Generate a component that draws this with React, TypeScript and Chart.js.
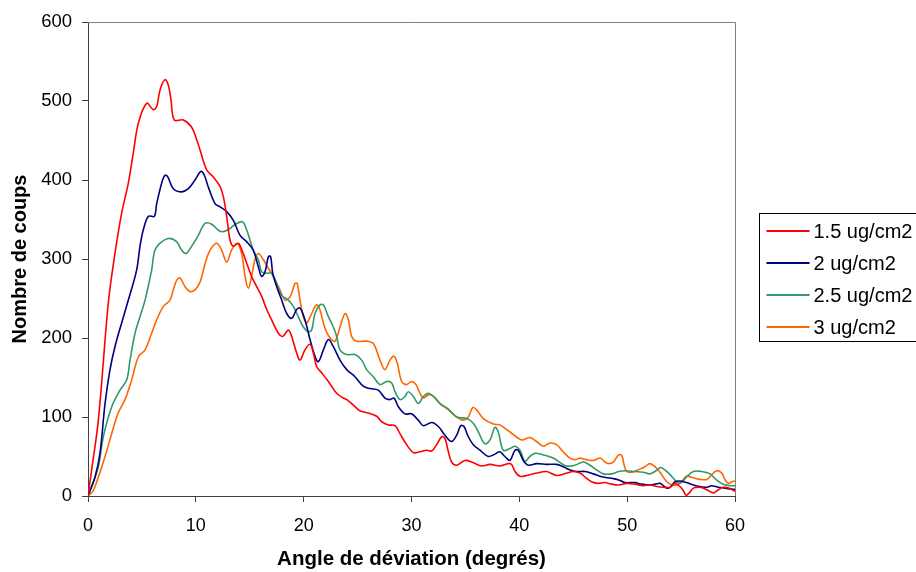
import React, { useEffect, useRef } from "react";
import { Chart, registerables } from "chart.js";

Chart.register(...registerables);

// ---------- data ----------
const seriesLabels = ["1.5 ug/cm2", "2 ug/cm2", "2.5 ug/cm2", "3 ug/cm2"];
const seriesColors = ["#FF0000", "#000080", "#339966", "#FF6600"];

const angle15 = [0, 0.34, 0.96, 1.88, 2.41, 3.12, 3.74, 4.2, 4.67, 5.44, 6.06, 6.37, 6.68, 7.14, 7.45, 7.7, 8.0, 8.84, 9.6, 10.08, 10.39, 11.0, 11.6, 12.24, 12.55, 12.86, 13.17, 13.48, 13.94, 14.25, 14.71, 15.17, 15.64, 16.1, 16.57, 17.03, 17.65, 18.05, 18.58, 18.89, 19.35, 19.66, 20.12, 20.59, 20.9, 21.2, 21.67, 22.29, 23.06, 23.68, 24.0, 24.6, 25.2, 26.0, 26.77, 27.23, 27.85, 28.47, 28.93, 29.55, 30.17, 30.79, 31.4, 31.87, 32.33, 32.8, 33.1, 33.42, 33.72, 34.19, 34.96, 35.73, 36.5, 37.28, 38.2, 38.97, 39.28, 39.6, 40.06, 40.68, 41.6, 42.53, 43.45, 44.38, 45.0, 45.63, 46.1, 46.7, 47.3, 47.95, 48.57, 49.2, 49.95, 50.73, 51.5, 52.1, 52.74, 53.36, 53.98, 54.44, 54.9, 55.2, 55.46, 55.77, 56.14, 56.76, 57.38, 58.0, 58.47, 58.9, 59.4, 60];
const counts15 = [0, 33, 96, 244, 299, 358, 396, 434, 472, 497, 489, 493, 514, 527, 520, 501, 476, 476, 467, 451, 438, 413, 404, 392, 379, 354, 324, 316, 320, 312, 295, 278, 265, 253, 236, 223, 206, 202, 210, 202, 181, 172, 185, 192, 181, 164, 156, 145, 130, 124, 122, 115, 108, 105, 101, 94, 90, 89, 79, 65, 55, 56, 58, 57, 65, 75, 73, 56, 43, 39, 45, 42, 38, 40, 38, 41, 40, 31, 25, 26, 29, 31, 26, 29, 31, 29, 24, 18, 16, 17, 15, 14, 16, 15, 13, 14, 12, 11, 11, 16, 12, 7, 1, 4, 10, 11, 8, 4, 8, 11, 10, 6];

const angle2 = [0, 0.65, 1.11, 1.58, 2.04, 2.5, 3.12, 3.74, 4.51, 4.82, 5.13, 5.6, 6.15, 6.37, 6.83, 7.14, 7.4, 7.91, 8.69, 9.3, 9.92, 10.48, 10.79, 11.16, 11.78, 12.24, 12.86, 13.48, 14.1, 14.71, 15.33, 15.8, 16.1, 16.42, 16.73, 16.94, 17.13, 17.5, 17.96, 18.43, 18.89, 19.35, 19.66, 20.12, 20.59, 21.05, 21.36, 21.83, 22.29, 22.75, 23.37, 23.99, 24.76, 25.53, 26.15, 26.92, 27.54, 28.0, 28.38, 28.78, 29.4, 30.0, 30.63, 31.1, 31.87, 32.49, 33.1, 33.72, 34.19, 34.56, 34.87, 35.27, 35.73, 36.35, 37.12, 37.74, 38.2, 38.66, 39.13, 39.6, 39.9, 40.37, 40.83, 41.6, 42.53, 43.45, 44.07, 44.7, 45.3, 46.1, 46.86, 47.79, 48.72, 49.3, 49.8, 50.73, 51.3, 51.95, 52.6, 53.05, 53.36, 53.67, 53.98, 54.44, 54.9, 55.5, 56.14, 56.76, 57.38, 57.84, 58.47, 59.08, 60];
const counts2 = [0, 24, 54, 117, 160, 189, 219, 248, 286, 316, 337, 354, 354, 370, 396, 406, 404, 389, 385, 389, 400, 411, 406, 391, 370, 366, 360, 349, 330, 322, 311, 290, 278, 284, 303, 303, 282, 265, 248, 231, 225, 236, 238, 223, 198, 177, 170, 185, 198, 189, 172, 160, 151, 139, 136, 134, 124, 122, 124, 113, 104, 104, 96, 89, 93, 88, 77, 69, 77, 89, 88, 75, 65, 58, 50, 53, 56, 50, 45, 58, 58, 45, 39, 41, 40, 40, 37, 33, 31, 31, 28, 24, 22, 20, 17, 17, 15, 14, 15, 16, 13, 10, 11, 18, 19, 17, 14, 12, 11, 13, 11, 10, 8];

const angle25 = [0, 0.34, 0.96, 1.42, 2.2, 2.97, 3.59, 3.9, 4.36, 4.82, 5.29, 5.9, 6.2, 6.68, 7.45, 8.22, 8.69, 9.09, 9.6, 10.23, 10.85, 11.47, 12.24, 12.86, 13.79, 14.35, 14.71, 15.02, 15.33, 15.8, 16.1, 16.57, 17.03, 17.5, 17.96, 18.58, 19.04, 19.5, 19.97, 20.43, 20.74, 21.05, 21.5, 21.83, 22.29, 22.75, 23.06, 23.37, 23.99, 24.76, 25.38, 25.84, 26.46, 27.08, 27.7, 28.16, 28.47, 28.93, 29.4, 29.7, 30.17, 30.63, 31.1, 31.56, 32.03, 32.65, 33.42, 34.19, 35.12, 35.73, 36.2, 36.8, 37.28, 37.74, 38.05, 38.5, 39.13, 39.6, 40.06, 40.52, 40.98, 41.45, 42.22, 43.15, 43.92, 44.38, 45.16, 45.93, 46.55, 47.17, 47.79, 48.57, 49.2, 49.8, 50.73, 51.5, 52.1, 52.68, 53.1, 53.5, 53.98, 54.6, 55.05, 55.5, 56.14, 56.9, 57.69, 58.3, 58.9, 59.55, 60];
const counts25 = [0, 12, 37, 75, 113, 134, 147, 172, 206, 227, 248, 286, 311, 320, 326, 322, 311, 307, 316, 330, 345, 344, 335, 336, 345, 347, 337, 324, 311, 299, 284, 282, 282, 269, 254, 248, 240, 227, 214, 208, 210, 231, 242, 242, 227, 214, 202, 185, 179, 179, 172, 160, 151, 141, 145, 143, 132, 122, 126, 132, 126, 117, 126, 130, 126, 117, 110, 100, 98, 92, 81, 66, 71, 87, 81, 58, 60, 63, 58, 44, 50, 54, 52, 48, 41, 38, 39, 43, 39, 33, 28, 28, 31, 32, 31, 30, 28, 32, 36, 33, 27, 18, 17, 24, 31, 31, 28, 20, 15, 13, 13];

const angle3 = [0, 0.45, 0.96, 1.58, 2.2, 2.8, 3.43, 4.05, 4.67, 5.29, 5.9, 6.37, 6.99, 7.6, 7.91, 8.22, 8.53, 9.0, 9.46, 9.92, 10.4, 10.85, 11.31, 11.93, 12.4, 12.86, 13.3, 13.79, 14.25, 14.56, 14.87, 15.17, 15.48, 15.8, 16.26, 16.73, 17.19, 17.8, 18.27, 18.74, 19.2, 19.4, 19.66, 19.97, 20.28, 20.74, 21.2, 21.5, 21.98, 22.45, 22.91, 23.37, 23.84, 24.15, 24.45, 24.91, 25.84, 26.46, 27.08, 27.54, 28.0, 28.38, 28.68, 29.09, 29.55, 30.0, 30.42, 30.79, 31.1, 31.56, 32.03, 32.65, 33.42, 34.19, 34.8, 35.27, 35.67, 36.04, 36.66, 37.59, 38.2, 39.13, 40.21, 40.98, 41.6, 42.22, 42.84, 43.45, 44.07, 44.69, 45.17, 45.63, 46.24, 46.86, 47.5, 47.95, 48.26, 48.72, 49.2, 49.5, 49.72, 49.95, 50.4, 51.0, 51.65, 52.1, 52.6, 53.05, 53.67, 54.13, 54.6, 55.05, 55.5, 56.14, 56.76, 57.38, 57.84, 58.3, 58.78, 59.1, 59.4, 59.7, 60];
const counts3 = [0, 6, 24, 50, 79, 105, 122, 147, 176, 185, 206, 223, 240, 248, 261, 273, 276, 265, 259, 261, 271, 294, 311, 320, 311, 296, 311, 320, 307, 278, 263, 278, 299, 307, 299, 288, 278, 261, 248, 252, 269, 269, 248, 227, 219, 231, 242, 236, 212, 200, 196, 214, 231, 223, 202, 196, 196, 193, 172, 160, 172, 177, 168, 145, 141, 145, 141, 130, 124, 128, 126, 117, 109, 100, 96, 100, 112, 109, 98, 91, 90, 81, 71, 74, 69, 63, 67, 65, 56, 48, 46, 48, 46, 45, 48, 43, 41, 43, 52, 51, 39, 31, 30, 33, 37, 41, 37, 30, 18, 14, 14, 18, 25, 23, 21, 21, 27, 32, 29, 20, 16, 18, 19];

const xTitle = "Angle de déviation (degrés)";
const yTitle = "Nombre de coups";
const xMin = 0, xMax = 60, xStep = 10;
const yMin = 0, yMax = 600, yStep = 100;

const seriesAngles = [angle15, angle2, angle25, angle3];
const seriesCounts = [counts15, counts2, counts25, counts3];

const FONT = "Arial, 'Liberation Sans', sans-serif";

const framePlugin = {
  id: "frameLines",
  afterDraw(chart: any) {
    const { ctx, chartArea } = chart;
    ctx.save();
    ctx.strokeStyle = "#808080";
    ctx.lineWidth = 1;
    ctx.beginPath();
    ctx.moveTo(chartArea.left, chartArea.top + 0.5);
    ctx.lineTo(chartArea.right + 0.5, chartArea.top + 0.5);
    ctx.lineTo(chartArea.right + 0.5, chartArea.bottom);
    ctx.stroke();
    ctx.restore();
  },
};

const boxLegendPlugin = {
  id: "boxLegend",
  afterDraw(chart: any) {
    const { ctx, chartArea } = chart;
    const left = chartArea.right + 24.5;
    const top = 213.5;
    const width = 157;
    const rowH = 32;
    const height = 128;
    ctx.save();
    ctx.fillStyle = "#ffffff";
    ctx.fillRect(left, top, width, height);
    ctx.strokeStyle = "#000000";
    ctx.lineWidth = 1;
    ctx.strokeRect(left, top, width, height);
    ctx.font = `20px ${FONT}`;
    ctx.textBaseline = "middle";
    ctx.textAlign = "left";
    chart.data.datasets.forEach((ds: any, i: number) => {
      const y = top + 17.5 + i * rowH;
      ctx.strokeStyle = ds.borderColor;
      ctx.lineWidth = 2;
      ctx.beginPath();
      ctx.moveTo(left + 7, y);
      ctx.lineTo(left + 50, y);
      ctx.stroke();
      ctx.fillStyle = "#000000";
      ctx.fillText(ds.label, left + 54, y + 1);
    });
    ctx.restore();
  },
};

export default function App() {
  const canvasRef = useRef<HTMLCanvasElement | null>(null);

  useEffect(() => {
    document.body.style.margin = "0";
    const canvas = canvasRef.current;
    if (!canvas) return;
    const datasets = seriesLabels.map((label, i) => ({
      label,
      data: seriesAngles[i].map((a, j) => ({ x: a, y: seriesCounts[i][j] })),
      borderColor: seriesColors[i],
      backgroundColor: seriesColors[i],
      borderWidth: 1.6,
      pointRadius: 0,
      pointHoverRadius: 0,
      tension: 0.35,
      fill: false,
    }));
    const chart = new Chart(canvas, {
      type: "line",
      data: { datasets },
      options: {
        animation: false,
        responsive: false,
        maintainAspectRatio: false,
        layout: { padding: { top: 22, right: 181, bottom: 0, left: 0 } },
        plugins: {
          legend: { display: false },
          tooltip: { enabled: false },
        },
        scales: {
          x: {
            type: "linear",
            min: xMin,
            max: xMax,
            ticks: {
              stepSize: xStep,
              color: "#000000",
              font: { family: FONT, size: 18 },
              padding: 13,
              maxRotation: 0,
            },
            grid: {
              display: true,
              drawOnChartArea: false,
              drawTicks: true,
              tickLength: 6,
              color: "#404040",
            },
            border: { display: true, color: "#404040", width: 1 },
            title: {
              display: true,
              text: xTitle,
              color: "#000000",
              font: { family: FONT, size: 20.5, weight: "bold", lineHeight: 1.2 },
              padding: { top: 0, bottom: 0 },
            },
            afterFit: (scale: any) => {
              scale.height = 76;
            },
          },
          y: {
            type: "linear",
            min: yMin,
            max: yMax,
            ticks: {
              stepSize: yStep,
              color: "#000000",
              font: { family: FONT, size: 18.5 },
              padding: 10,
            },
            grid: {
              display: true,
              drawOnChartArea: false,
              drawTicks: true,
              tickLength: 6,
              color: "#404040",
            },
            border: { display: true, color: "#404040", width: 1 },
            title: {
              display: true,
              text: yTitle,
              color: "#000000",
              font: { family: FONT, size: 20, weight: "bold", lineHeight: 1.2 },
              padding: { top: 8, bottom: 0 },
            },
            afterFit: (scale: any) => {
              scale.width = 88;
            },
          },
        },
      },
      plugins: [framePlugin, boxLegendPlugin],
    });
    return () => chart.destroy();
  }, []);

  return (
    <div style={{ width: 916, height: 572, background: "#ffffff" }}>
      <canvas ref={canvasRef} width={916} height={572} style={{ display: "block" }} />
    </div>
  );
}
